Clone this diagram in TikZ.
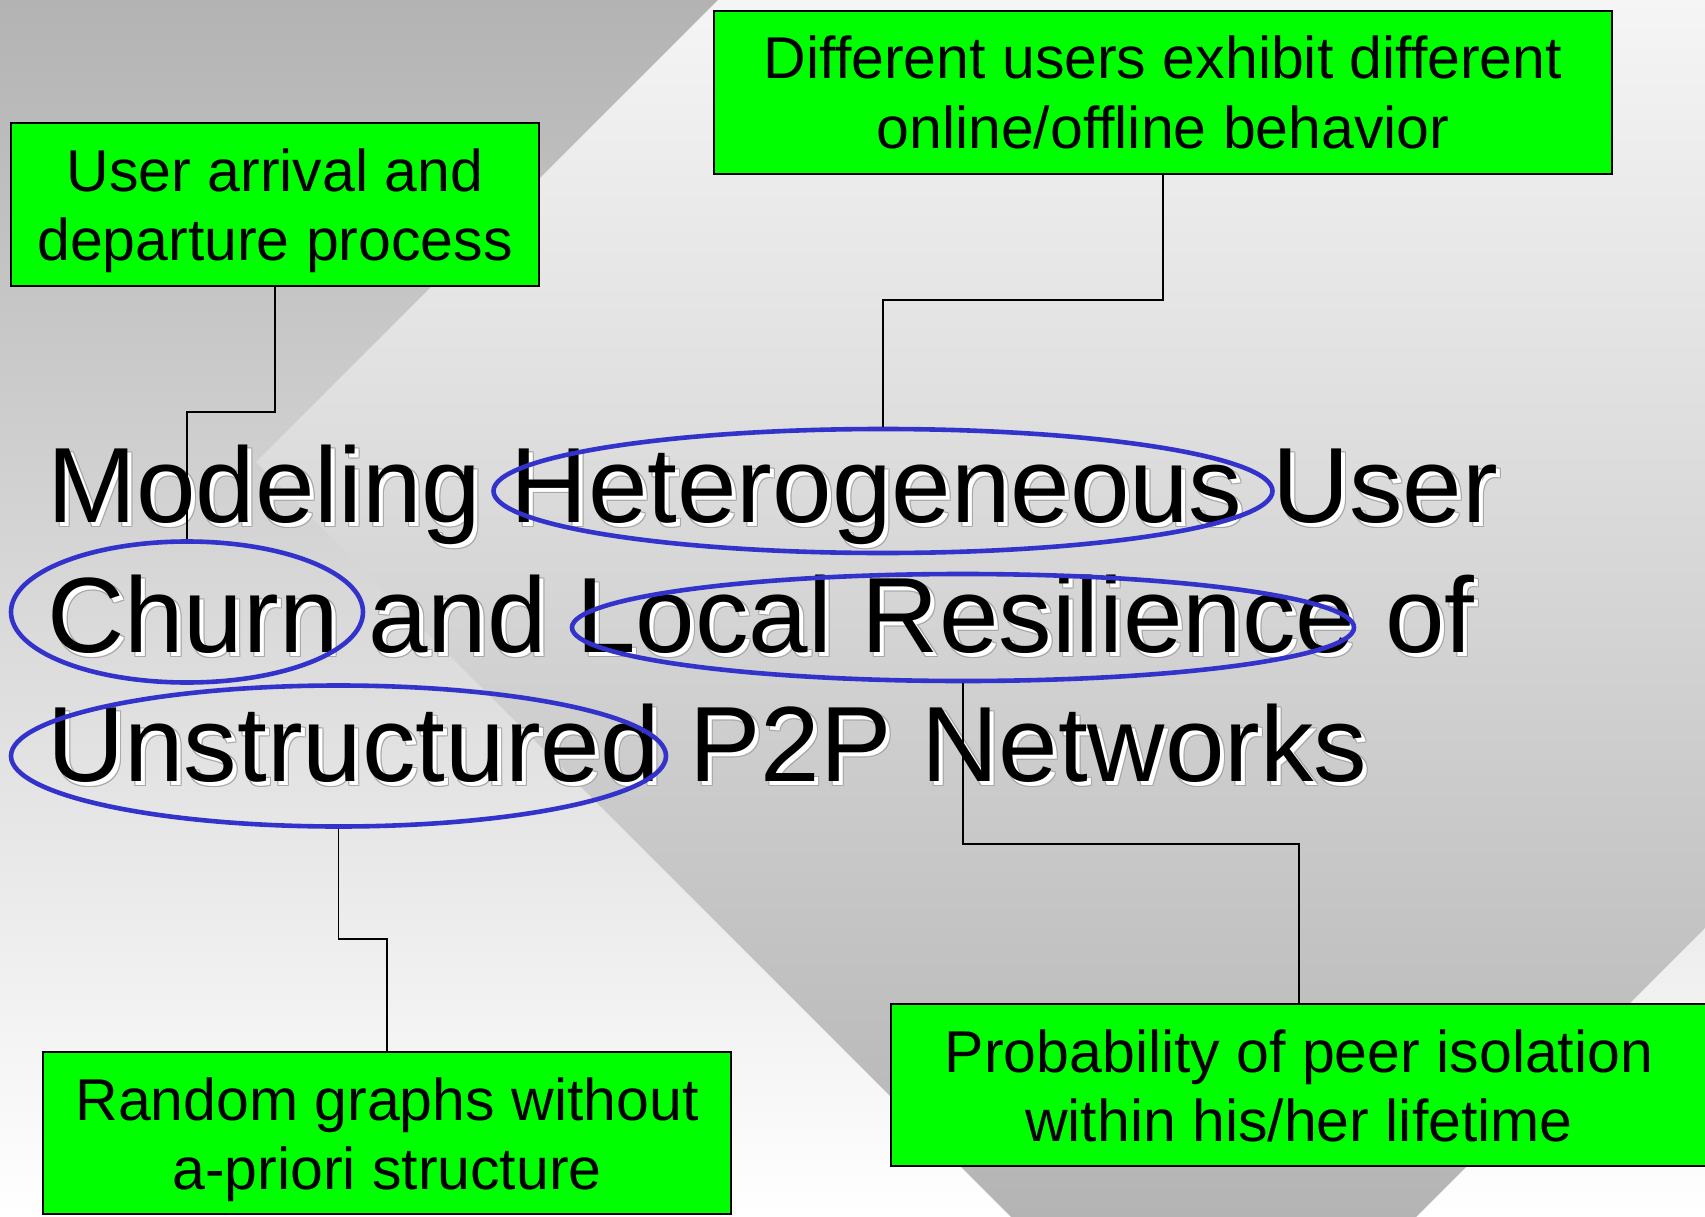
\documentclass[tikz,border=0pt]{standalone}
\usepackage{fontspec}
\setmainfont{Liberation Sans}
\usetikzlibrary{shapes.geometric}
\definecolor{outertop}{HTML}{B3B3B3}
\definecolor{outerbot}{HTML}{FFFFFF}
\definecolor{innertop}{HTML}{F5F5F5}
\definecolor{innerbot}{HTML}{B4B4B4}
\definecolor{ringblue}{HTML}{3333CC}
\definecolor{notegreen}{HTML}{00FF00}
\definecolor{rimgray}{HTML}{A8A8A8}

\begin{document}
\begin{tikzpicture}[x=1pt,y=-1pt,
  headline/.style={inner sep=0pt, anchor=base west, font=\fontsize{107}{128}\selectfont},
  notebox/.style={rectangle, draw=black, line width=2pt, fill=notegreen, inner sep=0pt},
  notetext/.style={inner sep=0pt, anchor=base, align=center, font=\fontsize{59}{69.5}\selectfont},
  ring/.style={ellipse, draw=ringblue, line width=4.6pt, inner sep=0pt},
  link/.style={draw=black, line width=1.6pt}]

% page and two-tone background
\useasboundingbox (0,0) rectangle (1705,1217);
\shade[top color=outertop, bottom color=outerbot] (0,0) rectangle (1705,1217);
\begin{scope}
  \clip (256,462) -- (918,-200) -- (2833,-200) -- (1213.5,1419.5) -- cycle;
  \shade[top color=innertop, bottom color=innerbot] (0,0) rectangle (1705,1217);
\end{scope}

% title, with an embossed white shadow
\foreach \n/\y/\t in {1/522/{Modeling Heterogeneous User},
                      2/652/{Churn and Local Resilience of},
                      3/781/{Unstructured P2P Networks}} {
  \foreach \dx/\dy in {3/3,5/5,3/5,5/3}
    \node[headline, text=rimgray] (rim\n-\dx-\dy) at (47+\dx,\y+\dy) {\t};
  \node[headline, text=white] (glow\n) at (51,\y+4) {\t};
  \node[headline, text=black] (head\n) at (47,\y) {\t};
}

% highlighted words
\node[ring, minimum width=779pt, minimum height=124pt] (eH) at (883,491) {};
\node[ring, minimum width=352pt, minimum height=141pt] (eC) at (187,612) {};
\node[ring, minimum width=782pt, minimum height=107pt] (eL) at (963,627.5) {};
\node[ring, minimum width=655pt, minimum height=141pt] (eU) at (338.5,756) {};

% annotation boxes (text anchored on the baseline of its last line)
\node[notebox, minimum width=528pt, minimum height=163pt] (uBox) at (275,204.5) {};
\node[notetext] (uText) at (275,260.5) {User arrival and\\departure process};

\node[notebox, minimum width=898pt, minimum height=163pt] (dBox) at (1163,92.5) {};
\node[notetext] (dText) at (1163,148.5) {Different users exhibit different\\online/offline behavior};

\node[notebox, minimum width=688pt, minimum height=162pt] (rBox) at (387,1133) {};
\node[notetext] (rText) at (387,1189.5) {Random graphs without\\a-priori structure};

\node[notebox, minimum width=816pt, minimum height=162pt] (pBox) at (1299,1085) {};
\node[notetext] (pText) at (1299,1141.5) {Probability of peer isolation\\within his/her lifetime};

% elbow connectors
\coordinate (k1) at (187,412);
\coordinate (k2) at (883,300);
\coordinate (k3) at (387,939);
\coordinate (k4) at (1299,844);
\draw[link] (uBox.south) |- (k1) -- (eC.north);
\draw[link] (dBox.south) |- (k2) -- (eH.north);
\draw[link] (eU.south) |- (k3) -- (rBox.north);
\draw[link] (eL.south) |- (k4) -- (pBox.north);
\end{tikzpicture}
\end{document}
